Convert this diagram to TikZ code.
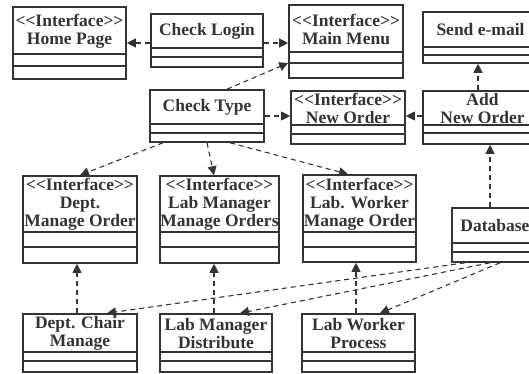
\documentclass[tikz,border=0pt]{standalone}
\usepackage{fontspec}
\setmainfont{Liberation Serif}
\usetikzlibrary{arrows.meta,fit}
\definecolor{ink}{HTML}{333333}
\newcommand\ifc{<\kern0pt<Interface>\kern0pt>}
\tikzset{
 boxframe/.style={draw=ink, line width=1.6pt, inner sep=0pt},
 sepline/.style={draw=ink, line width=1.6pt},
 titletext/.style={text=ink, font=\fontsize{17.5}{18}\selectfont\bfseries, align=center, inner sep=0pt, yshift=-0.5pt},
 dep/.style={draw=ink, line width=1.1pt, dash pattern=on 5pt off 4pt, -{Triangle[length=9pt,width=9pt]}},
}
\newcommand\umlbox[8]{%
 \node[boxframe, fit={(#2,#3) (#4,#5)}] (#1) {};
 \draw[sepline] (#2,#6) -- (#4,#6) (#2,#7) -- (#4,#7);
 \node[titletext] (#1-t) at ({(#2+#4)/2},{(#3+#6)/2}) {#8};
}
\begin{document}
\begin{tikzpicture}[x=1pt,y=-1pt]
\useasboundingbox (0,0) rectangle (529,374);
\clip (0,0) rectangle (529,374);
% top row
\umlbox{hp}{13}{7}{126}{79}{54}{66}{\ifc\\Home Page}
\umlbox{cl}{151}{14}{263}{67}{48}{57}{Check Login}
\umlbox{mm}{289}{5}{403}{78}{52}{63}{\ifc\\Main Menu}
\umlbox{se}{423}{12}{538}{63}{47}{55}{Send e-mail}
% second row
\umlbox{ct}{150}{90}{264}{142}{124}{133}{Check Type}
\umlbox{no}{291}{91}{405}{144}{125}{134}{\ifc\\New Order}
\umlbox{ano}{423}{91}{542}{144}{125}{133}{Add\\New Order}
% third row
\umlbox{dmo}{23}{176}{137}{263}{232}{247}{\ifc\\Dept.\\Manage Order}
\umlbox{lmo}{160}{176}{279}{263}{232}{247}{\ifc\\Lab Manager\\Manage Orders}
\umlbox{lwo}{303}{175}{416}{262}{232}{247}{\ifc\\Lab. Worker\\Manage Order}
\umlbox{db}{452}{208}{538}{262}{243}{252}{Database}
% bottom row
\umlbox{dcm}{23}{314}{137}{372}{352}{361}{Dept. Chair\\Manage}
\umlbox{lmd}{160}{314}{272}{372}{352}{361}{Lab Manager\\Distribute}
\umlbox{lwp}{302}{314}{415}{372}{352}{361}{Lab Worker\\Process}
% connectors
\draw[dep] (cl.west |- 0,43) -- (hp.east |- 0,43);
\draw[dep] (cl.east |- 0,43) -- (mm.west |- 0,43);
\draw[dep] (ct.north -| 227,0) -- (mm.west |- 0,63);
\draw[dep] (ct.east |- 0,116) -- (no.west |- 0,116);
\draw[dep] (ano.west |- 0,116) -- (no.east |- 0,116);
\draw[dep] (ano.north -| 478,0) -- (se.south -| 478,0);
\draw[dep] (db.north -| 490,0) -- (ano.south -| 490,0);
\draw[dep] (ct.south -| 163,0) -- (dmo.north -| 80,0);
\draw[dep] (ct.south -| 207,0) -- (lmo.north -| 214,0);
\draw[dep] (ct.south -| 230,0) -- (lwo.north -| 348,0);
\draw[dep] (dcm.north -| 77,0) -- (dmo.south -| 77,0);
\draw[dep] (lmd.north -| 214,0) -- (lmo.south -| 214,0);
\draw[dep] (lwp.north -| 356,0) -- (lwo.south -| 356,0);
\draw[dep] (db.south -| 465,0) -- (dcm.north -| 107,0);
\draw[dep] (db.south -| 490,0) -- (lmd.north -| 240,0);
\draw[dep] (db.south -| 500,0) -- (lwp.north -| 380,0);
\end{tikzpicture}
\end{document}
